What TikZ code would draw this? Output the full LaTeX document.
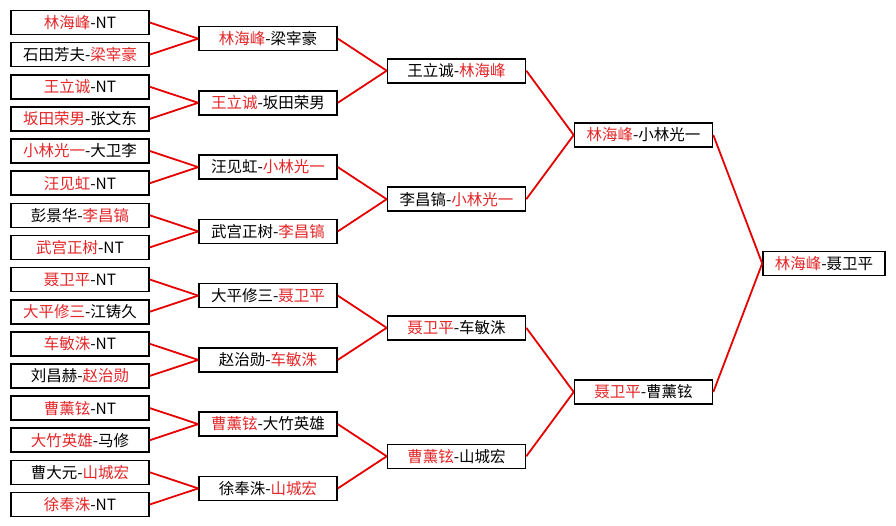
\documentclass[tikz,border=0pt]{standalone}
\usepackage{fontspec}
\setmainfont{Noto Sans CJK SC}
\definecolor{wred}{RGB}{228,38,40}
\definecolor{lred}{RGB}{230,0,0}
\newcommand\rd[1]{\textcolor{wred}{#1}}
\begin{document}
\begin{tikzpicture}[x=1pt,y=-1pt,
  box/.style={draw=black,line width=1.6pt,fill=white,minimum width=138pt,minimum height=24pt,inner sep=0pt,font=\fontsize{15.5}{17}\selectfont},
  link/.style={draw=lred,line width=1.8pt}]
\useasboundingbox[fill=white] (0,0) rectangle (896,525);
% column 1
\node[box] (a1) at (80,22.5) {\rd{林海峰}-NT};
\node[box] (a2) at (80,54.6) {石田芳夫-\rd{梁宰豪}};
\node[box] (a3) at (80,86.8) {\rd{王立诚}-NT};
\node[box] (a4) at (80,118.9) {\rd{坂田荣男}-张文东};
\node[box] (a5) at (80,151.0) {\rd{小林光一}-大卫李};
\node[box] (a6) at (80,183.2) {\rd{汪见虹}-NT};
\node[box] (a7) at (80,215.3) {彭景华-\rd{李昌镐}};
\node[box] (a8) at (80,247.4) {\rd{武宫正树}-NT};
\node[box] (a9) at (80,279.5) {\rd{聂卫平}-NT};
\node[box] (a10) at (80,311.7) {\rd{大平修三}-江铸久};
\node[box] (a11) at (80,343.8) {\rd{车敏洙}-NT};
\node[box] (a12) at (80,375.9) {刘昌赫-\rd{赵治勋}};
\node[box] (a13) at (80,408.1) {\rd{曹薰铉}-NT};
\node[box] (a14) at (80,440.2) {\rd{大竹英雄}-马修};
\node[box] (a15) at (80,472.3) {曹大元-\rd{山城宏}};
\node[box] (a16) at (80,504.5) {\rd{徐奉洙}-NT};
% column 2
\node[box] (b1) at (268,38.6) {\rd{林海峰}-梁宰豪};
\node[box] (b2) at (268,102.8) {\rd{王立诚}-坂田荣男};
\node[box] (b3) at (268,167.1) {汪见虹-\rd{小林光一}};
\node[box] (b4) at (268,231.4) {武宫正树-\rd{李昌镐}};
\node[box] (b5) at (268,295.6) {大平修三-\rd{聂卫平}};
\node[box] (b6) at (268,359.9) {赵治勋-\rd{车敏洙}};
\node[box] (b7) at (268,424.1) {\rd{曹薰铉}-大竹英雄};
\node[box] (b8) at (268,488.4) {徐奉洙-\rd{山城宏}};
% column 3
\node[box] (c1) at (456.5,70.7) {王立诚-\rd{林海峰}};
\node[box] (c2) at (456.5,199.2) {李昌镐-\rd{小林光一}};
\node[box] (c3) at (456.5,327.8) {\rd{聂卫平}-车敏洙};
\node[box] (c4) at (456.5,456.3) {\rd{曹薰铉}-山城宏};
% column 4
\node[box] (d1) at (643.5,135.0) {\rd{林海峰}-小林光一};
\node[box] (d2) at (643.5,392.0) {\rd{聂卫平}-曹薰铉};
% final
\node[box,minimum width=122pt] (e1) at (824,263.5) {\rd{林海峰}-聂卫平};
% connectors
\foreach \i/\p in {1/1,2/1,3/2,4/2,5/3,6/3,7/4,8/4,9/5,10/5,11/6,12/6,13/7,14/7,15/8,16/8}
  \draw[link] (a\i.east) -- (b\p.west);
\foreach \i/\p in {1/1,2/1,3/2,4/2,5/3,6/3,7/4,8/4}
  \draw[link] (b\i.east) -- (c\p.west);
\foreach \i/\p in {1/1,2/1,3/2,4/2}
  \draw[link] (c\i.east) -- (d\p.west);
\foreach \i in {1,2}
  \draw[link] (d\i.east) -- (e1.west);
\end{tikzpicture}
\end{document}
